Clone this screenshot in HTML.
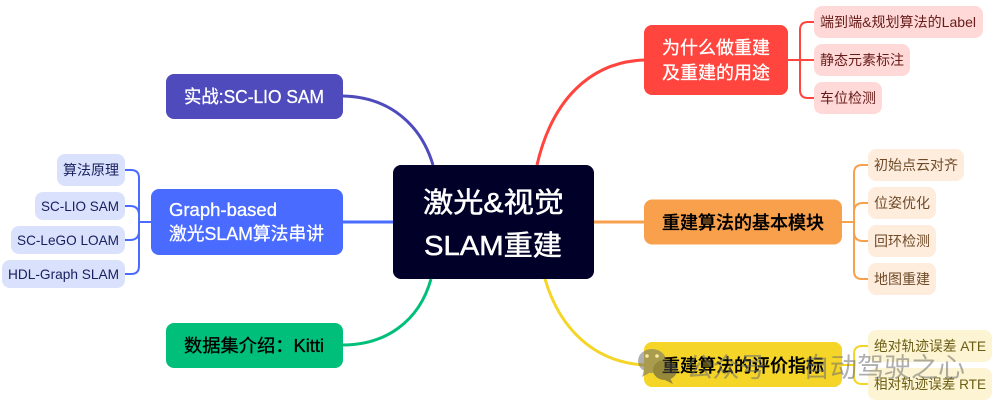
<!DOCTYPE html>
<html><head><meta charset="utf-8">
<style>
html,body{margin:0;padding:0;background:#fff;width:997px;height:406px;overflow:hidden}
svg{display:block}
text{font-family:"Liberation Sans","Noto Sans CJK SC",sans-serif}
</style></head>
<body>
<svg width="997" height="406" viewBox="0 0 997 406" xmlns="http://www.w3.org/2000/svg">
<rect width="997" height="406" fill="#fff"/>
<g fill="none" stroke-width="3">
<path d="M343 96 C390 97 421 125 433 165" stroke="#4f4bbd"/>
<path d="M343 222 H393" stroke="#4a6bff"/>
<path d="M343 345 C385 345 419 322 431 279" stroke="#00bf7a"/>
<path d="M644 60 C590 62 552 100 537 165" stroke="#ff453d"/>
<path d="M594 222 H644" stroke="#f8a04c"/>
<path d="M545 279 C560 330 595 362 644 365" stroke="#f4d528"/>
</g>
<g fill="none" stroke-width="2" stroke="#4a6bff">
<path d="M151 222 H139"/>
<path d="M125 170 H131 Q139 170 139 178 V266 Q139 274 131 274 H125"/>
<path d="M125 206 H130 Q139 206 139 215 V231 Q139 240 130 240 H125"/>
</g>
<g fill="none" stroke-width="2" stroke="#ff453d">
<path d="M788 60 H814"/>
<path d="M814 22 H808 Q800 22 800 30 V90 Q800 98 808 98 H814"/>
</g>
<g fill="none" stroke-width="2" stroke="#f8a04c">
<path d="M842 222 H854"/>
<path d="M868 165 H862 Q854 165 854 173 V271 Q854 279 862 279 H868"/>
<path d="M868 203 H863 Q854 203 854 212 V232 Q854 241 863 241 H868"/>
</g>
<g fill="none" stroke-width="2" stroke="#f4d528">
<path d="M842 365 H854"/>
<path d="M868 346 H862 Q854 346 854 354 V376 Q854 384 862 384 H868"/>
</g>

<rect x="393" y="165" width="201" height="114" rx="8" fill="#000028"/>
<rect x="166" y="74" width="177" height="45" rx="8" fill="#4f4bbd"/>
<rect x="151" y="189" width="192" height="66" rx="8" fill="#4a6bff"/>
<rect x="166" y="323" width="177" height="45" rx="8" fill="#00bf7a"/>
<rect x="644" y="25" width="144" height="70" rx="8" fill="#ff453d"/>
<rect x="644" y="199.500" width="198" height="45" rx="8" fill="#f8a04c"/>
<rect x="644" y="342" width="198" height="45" rx="8" fill="#f4d528"/>

<g fill="#d9e1fc">
<rect x="57" y="154" width="68" height="32" rx="8"/>
<rect x="35" y="192" width="90" height="28" rx="8"/>
<rect x="11" y="226" width="114" height="28" rx="8"/>
<rect x="2" y="260" width="123" height="28" rx="8"/>
</g>
<g fill="#ffd9d8">
<rect x="814" y="6" width="169" height="32" rx="8"/>
<rect x="814" y="44" width="96" height="32" rx="8"/>
<rect x="814" y="82" width="68" height="32" rx="8"/>
</g>
<g fill="#feecdd">
<rect x="868" y="149" width="96" height="32" rx="8"/>
<rect x="868" y="187" width="68" height="32" rx="8"/>
<rect x="868" y="225" width="68" height="32" rx="8"/>
<rect x="868" y="263" width="68" height="32" rx="8"/>
</g>
<g fill="#fcf4d2">
<rect x="868" y="330" width="124" height="32" rx="8"/>
<rect x="868" y="368" width="124" height="32" rx="8"/>
</g>

<g fill="#fff" stroke="#fff" stroke-width="0.3">
<text x="423" y="212" font-size="28" stroke-width="0.5" textLength="141" lengthAdjust="spacingAndGlyphs">激光&amp;视觉</text>
<text x="424" y="255" font-size="28" stroke-width="0.5" textLength="138" lengthAdjust="spacingAndGlyphs">SLAM重建</text>
<text x="184" y="103" font-size="18" textLength="140" lengthAdjust="spacingAndGlyphs">实战:SC-LIO SAM</text>
<text x="169" y="216" font-size="18" textLength="108" lengthAdjust="spacingAndGlyphs">Graph-based</text>
<text x="169" y="240" font-size="18" textLength="155" lengthAdjust="spacingAndGlyphs">激光SLAM算法串讲</text>
<text x="662" y="54" font-size="18" textLength="108">为什么做重建</text>
<text x="662" y="79" font-size="18" textLength="108">及重建的用途</text>
</g>
<g fill="#000">
<text x="184" y="352" font-size="18" stroke="#000" stroke-width="0.3" textLength="140" lengthAdjust="spacingAndGlyphs">数据集介绍：Kitti</text>
<text x="662" y="229" font-size="18" textLength="162" font-weight="500" stroke="#000" stroke-width="0.3">重建算法的基本模块</text>
<text x="662" y="372" font-size="18" textLength="162" font-weight="500" stroke="#000" stroke-width="0.3">重建算法的评价指标</text>
</g>

<g font-size="14" fill="#1a2060">
<text x="63" y="175" textLength="56">算法原理</text>
<text x="41" y="211" textLength="78" lengthAdjust="spacingAndGlyphs">SC-LIO SAM</text>
<text x="17" y="245" textLength="102" lengthAdjust="spacingAndGlyphs">SC-LeGO LOAM</text>
<text x="8" y="279" textLength="111" lengthAdjust="spacingAndGlyphs">HDL-Graph SLAM</text>
</g>
<g font-size="14" fill="#661b18">
<text x="820" y="27" textLength="156" lengthAdjust="spacingAndGlyphs">端到端&amp;规划算法的Label</text>
<text x="820" y="65" textLength="84">静态元素标注</text>
<text x="820" y="103" textLength="56">车位检测</text>
</g>
<g font-size="14" fill="#6e4a28">
<text x="874" y="170" textLength="84">初始点云对齐</text>
<text x="874" y="208" textLength="56">位姿优化</text>
<text x="874" y="246" textLength="56">回环检测</text>
<text x="874" y="284" textLength="56">地图重建</text>
</g>
<g font-size="14" fill="#6b5d14">
<text x="874" y="351" textLength="112" lengthAdjust="spacingAndGlyphs">绝对轨迹误差 ATE</text>
<text x="874" y="389" textLength="112" lengthAdjust="spacingAndGlyphs">相对轨迹误差 RTE</text>
</g>

<!-- watermark -->
<g opacity="0.55">
<ellipse cx="652" cy="361" rx="14" ry="12" fill="#6e6e6e"/>
<path d="M644 370 L642 377 L651 372 Z" fill="#6e6e6e"/>
<circle cx="647" cy="356" r="1.800" fill="#fff"/>
<circle cx="657" cy="356" r="1.800" fill="#fff"/>
<ellipse cx="665" cy="370" rx="12" ry="10" fill="#4a4a4a"/>
<path d="M670 378 L673 384 L665 380 Z" fill="#4a4a4a"/>
<text x="686" y="377" font-size="27" fill="#6e6e6e" textLength="80">公众号</text>
<text x="775" y="377" font-size="27" fill="#6e6e6e">·</text>
<text x="803" y="377" font-size="27" fill="#6e6e6e" textLength="162">自动驾驶之心</text>
</g>
</svg>
</body></html>
